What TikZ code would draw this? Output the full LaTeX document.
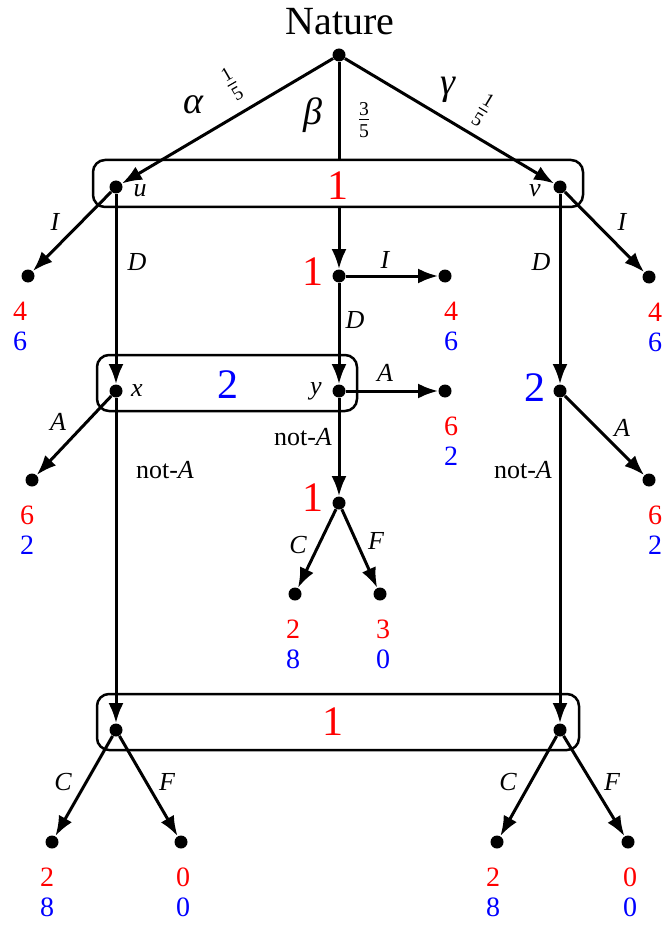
\documentclass[tikz,border=0pt]{standalone}
\usepackage{amsmath}
\usepackage{fontspec}
\setmainfont{LiberationSerif}[Extension=.ttf, UprightFont=*-Regular,
  BoldFont=*-Bold, ItalicFont=*-Italic, BoldItalicFont=*-BoldItalic]
\usetikzlibrary{arrows.meta,positioning,calc,fit}
\definecolor{pone}{RGB}{255,0,0}
\definecolor{ptwo}{RGB}{0,0,255}

\begin{document}
\begin{tikzpicture}[x=0.5pt, y=-0.5pt,
    dot/.style={circle,fill=black,inner sep=0pt,minimum size=6.5pt},
    move/.style={line width=1.5pt,-{Latex[length=10pt,width=7.5pt]}},
    plain/.style={line width=1.5pt},
    infoset/.style={draw,line width=1.25pt,rounded corners=6pt,inner sep=0pt},
    act/.style={font=\fontsize{13}{15}\selectfont\itshape},
    lbl/.style={font=\fontsize{13}{15}\selectfont\itshape},
    owner/.style={font=\fontsize{21}{23}\selectfont},
    greek/.style={font=\fontsize{19}{21}\selectfont\itshape},
    prob/.style={font=\fontsize{14}{16}\selectfont},
    pay/.style={font=\fontsize{14}{15}\selectfont,align=center,inner sep=0pt}]
  \useasboundingbox (0,0) rectangle (664,925);
  %% decision nodes
  \node[dot] (nature) at (339,55) {};
  \node[font=\fontsize{20}{22}\selectfont] (naturetxt) at (340,22) {Nature};
  \node[dot] (u) at (116,187) {};
  \node[dot] (v) at (560,187) {};
  \node[dot] (m1) at (339,276) {};
  \node[dot] (x) at (116,391) {};
  \node[dot] (y) at (339,391) {};
  \node[dot] (r2) at (560,391) {};
  \node[dot] (m2) at (339,503) {};
  \node[dot] (bl) at (116,730) {};
  \node[dot] (br) at (560,730) {};
  %% terminal nodes
  \node[dot] (lI) at (28,276) {};
  \node[dot] (rI) at (649,277) {};
  \node[dot] (mI) at (445,276) {};
  \node[dot] (mA) at (445,391) {};
  \node[dot] (lA) at (32,480) {};
  \node[dot] (rA) at (649,480) {};
  \node[dot] (mC) at (295,594) {};
  \node[dot] (mF) at (380,594) {};
  \node[dot] (blC) at (52,842) {};
  \node[dot] (blF) at (181,842) {};
  \node[dot] (brC) at (497,842) {};
  \node[dot] (brF) at (628,842) {};
  %% information sets
  \node[infoset, fit={($(u)+(-23,-27)$) ($(v)+(23,20)$)}] (set1) {};
  \node[infoset, fit={($(x)+(-19,-36)$) ($(y)+(18,20)$)}] (set2) {};
  \node[infoset, fit={($(bl)+(-19,-36)$) ($(br)+(19,20)$)}] (set3) {};
  %% moves
  \foreach \a/\b in {nature/u, nature/v, u/lI, u/x, v/rI, v/r2, m1/mI, m1/y,
                     y/mA, y/m2, x/lA, x/bl, r2/rA, r2/br, m2/mC, m2/mF,
                     bl/blC, bl/blF, br/brC, br/brF}
    \draw[move] (\a) -- (\b);
  \draw[plain] (nature) -- (nature |- set1.north);
  \draw[move] (nature |- set1.south) -- (m1);
  %% chance labels
  \node[greek] at (193,105) {α};
  \node[greek] at (313,115) {β};
  \node[greek] at (448,90) {γ};
  \node[prob,rotate=30] at (232,84) {$\frac{\text{1}}{\text{5}}$};
  \node[prob] at (364,120) {$\frac{\text{3}}{\text{5}}$};
  \node[prob,rotate=-31] at (483,110) {$\frac{\text{1}}{\text{5}}$};
  %% players
  \node[owner,pone] at (338,186) {1};
  \node[owner,pone] at (313,272) {1};
  \node[owner,ptwo] at (228,385) {2};
  \node[owner,ptwo] at (535,388) {2};
  \node[owner,pone] at (313,498) {1};
  \node[owner,pone] at (333,722) {1};
  %% node names
  \node[lbl] at (140,191) {u};
  \node[lbl] at (535,191) {v};
  \node[lbl] at (137,391) {x};
  \node[lbl] at (316,391) {y};
  %% actions
  \node[act] at (55,222) {I};
  \node[act] at (137,262) {D};
  \node[act] at (622,222) {I};
  \node[act] at (541,262) {D};
  \node[act] at (385,260) {I};
  \node[act] at (355,320) {D};
  \node[act] at (385,373) {A};
  \node[act] at (58,422) {A};
  \node[act] at (622,428) {A};
  \node[font=\fontsize{13}{15}\selectfont] at (165,470) {not-\textit{A}};
  \node[font=\fontsize{13}{15}\selectfont] at (303,437) {not-\textit{A}};
  \node[font=\fontsize{13}{15}\selectfont] at (523,470) {not-\textit{A}};
  \node[act] at (298,545) {C};
  \node[act] at (376,541) {F};
  \node[act] at (63,782) {C};
  \node[act] at (167,782) {F};
  \node[act] at (508,782) {C};
  \node[act] at (612,782) {F};
  %% payoffs
  \foreach \n/\dx/\a/\b in {lI/-8/4/6, rI/6/4/6, mI/6/4/6, mA/6/6/2, lA/-5/6/2,
                            rA/6/6/2, mC/-2/2/8, mF/3/3/0, blC/-5/2/8,
                            blF/2/0/0, brC/-4/2/8, brF/2/0/0}
    \node[pay] at ($(\n)+(\dx,50)$) {\textcolor{pone}{\a}\\\textcolor{ptwo}{\b}};
\end{tikzpicture}
\end{document}
